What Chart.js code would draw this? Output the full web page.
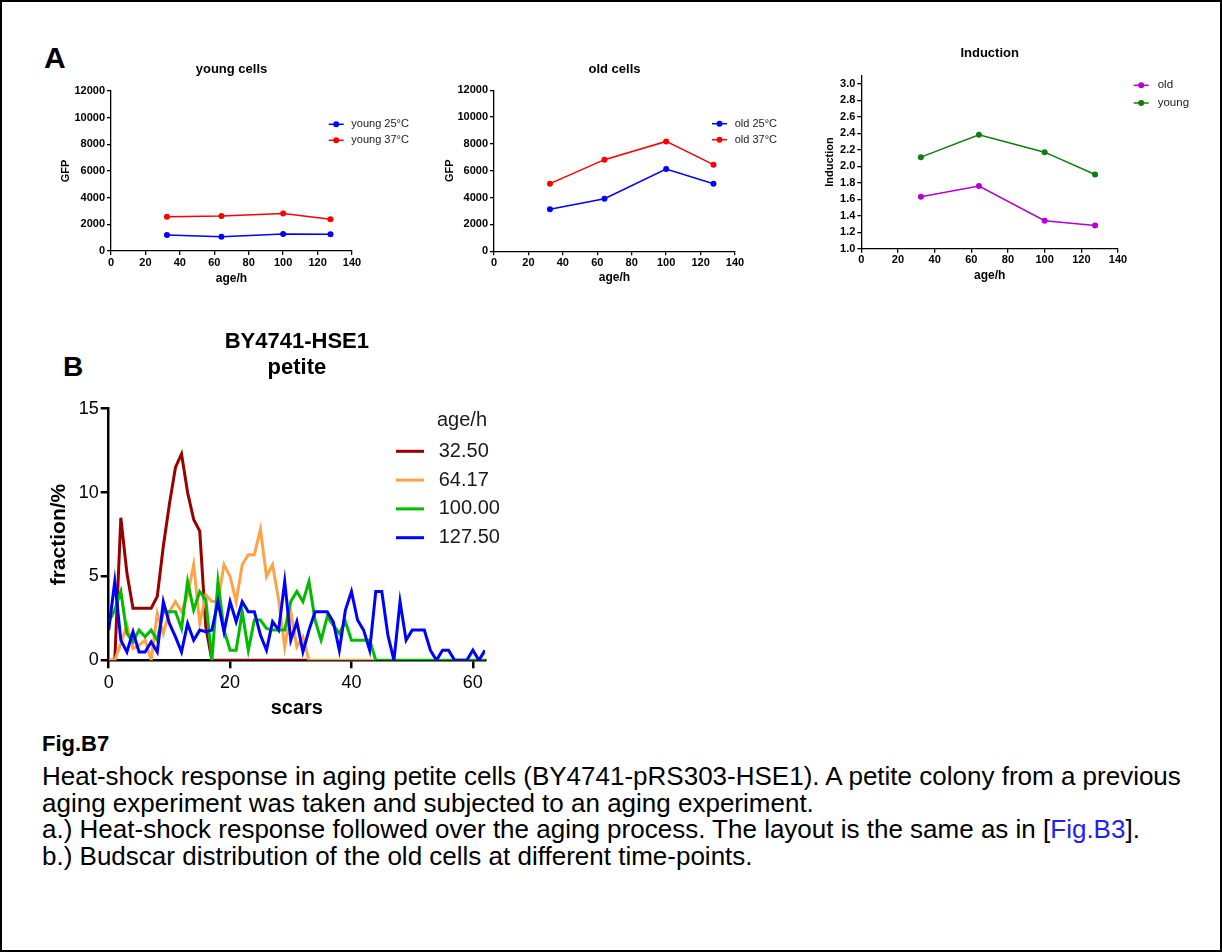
<!DOCTYPE html>
<html>
<head>
<meta charset="utf-8">
<script src="https://cdn.jsdelivr.net/npm/chart.js@4.4.1/dist/chart.umd.min.js"></script>
<style>
  body { margin: 0; background: #fff; font-family: "Liberation Sans", Arial, sans-serif; }
  #page { position: relative; width: 1222px; height: 952px; box-sizing: border-box; border: 2px solid #000; overflow: hidden; }
  canvas { position: absolute; }
  .panel { position: absolute; font-weight: bold; line-height: 1; color: #000; }
  #fig { position: absolute; left: 40px; top: 729px; font-size: 22px; font-weight: bold; line-height: 26px; }
  #caption { position: absolute; left: 40px; top: 761px; font-size: 26px; line-height: 26.5px; color: #000; white-space: nowrap; }
  #caption a { color: #2222ee; text-decoration: none; }
</style>
</head>
<body>
<div id="page">
  <div class="panel" style="left:42px;top:41px;font-size:30px;">A</div>
  <div class="panel" style="left:61px;top:351px;font-size:28px;">B</div>

  <canvas id="young" width="363" height="244" style="left:57px;top:40px;"></canvas>
  <canvas id="old" width="359" height="243" style="left:441px;top:40px;"></canvas>
  <canvas id="induction" width="379" height="261" style="left:821px;top:20px;"></canvas>
  <canvas id="scars" width="475" height="418" style="left:45px;top:300px;"></canvas>

  <div id="fig">Fig.B7</div>
  <div id="caption">
    Heat-shock response in aging petite cells (BY4741-pRS303-HSE1). A petite colony from a previous<br>
    aging experiment was taken and subjected to an aging experiment.<br>
    a.) Heat-shock response followed over the aging process. The layout is the same as in [<a>Fig.B3</a>].<br>
    b.) Budscar distribution of the old cells at different time-points.
  </div>
</div>

<script>
// ages of the sampled cells (hours)
const ages = [32.5, 64.17, 100, 127.5];

// GFP fluorescence, young cells
const young25 = [1200, 1070, 1280, 1250];
const young37 = [2570, 2620, 2820, 2380];

// GFP fluorescence, old cells
const old25 = [3130, 3920, 6130, 5040];
const old37 = [5040, 6830, 8190, 6460];

// induction (37°C / 25°C)
const inductionOld = [1.63, 1.76, 1.34, 1.28];
const inductionYoung = [2.11, 2.38, 2.17, 1.90];

// axis ticks
const ageTicks = [0, 20, 40, 60, 80, 100, 120, 140];
const gfpTicks = [0, 2000, 4000, 6000, 8000, 10000, 12000];
const inductionTicks = [1.0, 1.2, 1.4, 1.6, 1.8, 2.0, 2.2, 2.4, 2.6, 2.8, 3.0];
const scarTicks = [0, 20, 40, 60];
const fractionTicks = [0, 5, 10, 15];

// budscar distribution (fraction/% per scar count, starting at 0 scars)
const ageGroups = ["32.50", "64.17", "100.00", "127.50"];
const frac32 = [0, 0, 8.5, 5.2, 3.1, 3.1, 3.1, 3.1, 3.8, 6.8, 9.3, 11.5, 12.3, 10.0, 8.4, 7.7, 2.0, 0,
  0, 0, 0, 0, 0, 0, 0, 0, 0, 0, 0, 0, 0, 0, 0, 0];
const frac64 = [0, 0, 1.0, 2.1, 0.7, 0.9, 1.2, 0, 2.8, 1.6, 2.9, 3.5, 2.9, 3.9, 5.7, 2.2, 3.9, 3.5,
  3.5, 5.7, 5.0, 3.5, 5.7, 6.3, 6.3, 7.8, 5.0, 5.7, 3.6, 0.8, 2.9, 0.8, 1.4, 0,
  0, 0, 0, 0, 0, 0, 0, 0, 0, 0, 0];
const frac100 = [2.3, 3.0, 4.1, 1.6, 1.1, 1.8, 1.4, 1.8, 1.2, 2.9, 2.9, 2.9, 1.9, 4.7, 3.0, 4.1, 3.6, 0,
  4.7, 1.8, 0.6, 0.6, 2.9, 0.6, 2.4, 2.4, 1.9, 1.8, 1.8, 1.8, 3.5, 4.1, 3.5, 4.7, 2.4, 1.2,
  2.6, 2.1, 1.6, 2.3, 1.2, 1.2, 1.2, 1.2, 0, 0, 0, 0, 0, 0, 0, 0, 0, 0, 0, 0, 0, 0, 0, 0, 0, 0, 0];
const frac127 = [1.8, 4.7, 1.2, 0.5, 1.7, 0.5, 0.5, 1.1, 0.5, 3.5, 2.2, 1.4, 0.5, 2.2, 1.2, 1.8, 1.7, 1.8,
  3.5, 1.7, 3.5, 2.3, 3.5, 2.9, 2.9, 1.5, 0.6, 2.3, 1.8, 4.7, 1.2, 2.3, 0.5, 1.8, 2.9, 2.9,
  2.9, 2.3, 0.6, 3.0, 4.1, 2.4, 1.8, 0.6, 4.1, 4.1, 1.5, 0, 3.5, 1.2, 1.8, 1.8, 1.8, 0.6, 0,
  0.6, 0.6, 0, 0, 0, 0.6, 0, 0.6];

Chart.defaults.font.family = "'Liberation Sans', Arial, sans-serif";
Chart.defaults.color = "#000";

const points = (xs, ys) => ys.map((y, i) => ({ x: xs[i], y }));
const byIndex = ys => ys.map((y, i) => ({ x: i, y }));

// legend drawn to the right of the plot, line + optional dot + label
const sideLegend = {
  id: "sideLegend",
  afterDraw(chart, args, o) {
    const ctx = chart.ctx;
    ctx.save();
    ctx.font = o.font;
    ctx.fillStyle = o.color;
    ctx.textBaseline = "middle";
    if (o.title) {
      ctx.textAlign = "center";
      ctx.fillText(o.title, o.titleX, o.titleY);
    }
    ctx.textAlign = "left";
    chart.data.datasets.forEach((ds, i) => {
      const y = o.y + i * o.gap;
      ctx.strokeStyle = ds.borderColor;
      ctx.lineWidth = ds.borderWidth;
      ctx.beginPath();
      ctx.moveTo(o.x, y);
      ctx.lineTo(o.x + o.len, y);
      ctx.stroke();
      if (ds.pointRadius) {
        ctx.fillStyle = ds.borderColor;
        ctx.beginPath();
        ctx.arc(o.x + o.len / 2, y, ds.pointRadius, 0, Math.PI * 2);
        ctx.fill();
      }
      ctx.fillStyle = o.color;
      ctx.fillText(ds.label, o.textX, y);
    });
    ctx.restore();
  }
};

function lineSet(label, data, color) {
  return {
    label, data, borderColor: color, backgroundColor: color,
    borderWidth: 1.5, pointRadius: 3, pointBorderWidth: 0, tension: 0
  };
}

function axis(opts) {
  return {
    type: "linear",
    min: opts.min, max: opts.max,
    afterFit: opts.size,
    afterBuildTicks: s => { s.ticks = opts.ticks.map(v => ({ value: v })); },
    grid: { display: true, drawOnChartArea: false, drawTicks: true, tickLength: opts.tick, color: "#000", lineWidth: opts.lw },
    border: { display: true, color: "#000", width: opts.lw },
    ticks: {
      padding: opts.pad, color: "#000",
      font: opts.tickFont,
      callback: opts.fmt || (v => String(v))
    },
    title: { display: true, text: opts.title, font: opts.titleFont, padding: 0, color: "#000" }
  };
}

function smallChart(id, title, titlePad, datasets, yOpts, sizes, legend) {
  new Chart(document.getElementById(id), {
    type: "line",
    data: { datasets },
    options: {
      responsive: false, animation: false,
      layout: { padding: { left: 0, top: 0, right: sizes.right, bottom: 0 } },
      plugins: {
        legend: { display: false }, tooltip: { enabled: false },
        title: { display: true, text: title, fullSize: false, color: "#000",
          font: { size: 13, weight: "bold" }, padding: titlePad },
        sideLegend: Object.assign({ len: 15, font: "11px 'Liberation Sans', Arial", color: "#222" }, legend)
      },
      scales: {
        x: axis({ min: 0, max: 140, ticks: ageTicks, tick: 4, lw: 1.3, pad: 1,
          size: s => { s.height = sizes.xh; },
          tickFont: { size: 11, weight: "bold" }, title: "age/h", titleFont: { size: 12, weight: "bold" } }),
        y: axis(Object.assign({ tick: 4, lw: 1.3, pad: 2,
          size: s => { s.width = sizes.yw; },
          tickFont: { size: 11, weight: "bold" }, titleFont: { size: 11, weight: "bold" } }, yOpts))
      }
    },
    plugins: [sideLegend]
  });
}

smallChart("young", "young cells", { top: 19.9, bottom: 13.5 },
  [lineSet("young 25°C", points(ages, young25), "#0000ff"),
   lineSet("young 37°C", points(ages, young37), "#ff0000")],
  { min: 0, max: 12000, ticks: gfpTicks, title: "GFP" },
  { right: 70, yw: 52, xh: 35 },
  { x: 269.7, textX: 292.3, y: 82.3, gap: 16 });

smallChart("old", "old cells", { top: 19.9, bottom: 12.8 },
  [lineSet("old 25°C", points(ages, old25), "#0000ff"),
   lineSet("old 37°C", points(ages, old37), "#ff0000")],
  { min: 0, max: 12000, ticks: gfpTicks, title: "GFP" },
  { right: 67, yw: 51, xh: 33.7 },
  { x: 269, textX: 291.7, y: 81.7, gap: 16 });

smallChart("induction", "Induction", { top: 23.9, bottom: 13.95 },
  [lineSet("old", points(ages, inductionOld), "#b300d6"),
   lineSet("young", points(ages, inductionYoung), "#107c10")],
  { min: 1.0, max: 3.1, ticks: inductionTicks, title: "Induction", fmt: v => v.toFixed(1) },
  { right: 84, yw: 38.3, xh: 34.3 },
  { x: 310.7, textX: 334.7, y: 63.3, gap: 17.7, font: "11.5px 'Liberation Sans', Arial" });

// budscar distribution, later age groups drawn on top
const scarColors = ["#990000", "#ffa347", "#00bb00", "#0000ff"];
const scarSeries = [frac32, frac64, frac100, frac127];

new Chart(document.getElementById("scars"), {
  type: "line",
  data: {
    datasets: scarSeries.map((d, i) => ({
      label: ageGroups[i], data: byIndex(d),
      borderColor: scarColors[i], backgroundColor: scarColors[i],
      borderWidth: 3, pointRadius: 0, tension: 0, order: 4 - i
    }))
  },
  options: {
    responsive: false, animation: false,
    layout: { padding: { left: 0, top: 0, right: 37, bottom: 0 } },
    plugins: {
      legend: { display: false }, tooltip: { enabled: false },
      title: { display: true, text: ["BY4741-HSE1", "petite"], fullSize: false, color: "#000",
        font: { size: 22, weight: "bold" }, padding: { top: 26.8, bottom: 27.1 } },
      sideLegend: { x: 349, len: 28, textX: 391.7, y: 149.3, gap: 28.8,
        font: "20px 'Liberation Sans', Arial", color: "#1a1a1a",
        title: "age/h", titleX: 415, titleY: 118.5 }
    },
    scales: {
      x: axis({ min: 0, max: 62, ticks: scarTicks, tick: 8, lw: 2.5, pad: 4,
        size: s => { s.height = 59.7; },
        tickFont: { size: 18 }, title: "scars", titleFont: { size: 20, weight: "bold" } }),
      y: axis({ min: 0, max: 15, ticks: fractionTicks, tick: 8, lw: 2.5, pad: 2,
        size: s => { s.width = 61.7; },
        tickFont: { size: 18 }, title: "fraction/%", titleFont: { size: 21, weight: "bold" } })
    }
  },
  plugins: [sideLegend]
});
</script>
</body>
</html>
